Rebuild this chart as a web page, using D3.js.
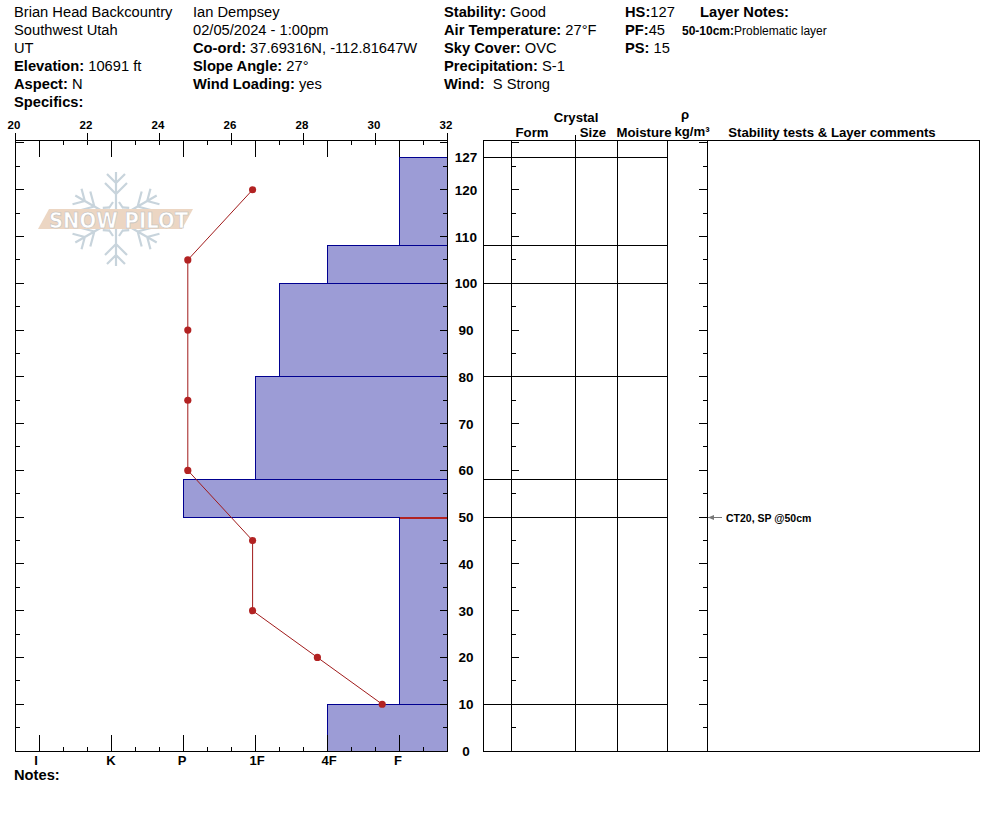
<!DOCTYPE html>
<html><head><meta charset="utf-8">
<script src="https://cdn.jsdelivr.net/npm/d3@7"></script>
<style>html,body{margin:0;padding:0;background:#fff}svg{display:block}text{font-family:"Liberation Sans",Arial,sans-serif;fill:#000}</style>
</head><body><div id="c"></div>
<script>
(function(){
const layerTops=[127,108,100,80,58,50,10];
const layerBottoms=[108,100,80,58,50,10,0];
const layerHardness=[5,4,3.333,3,2,5,4];
const tempDepths=[120,105,90,75,60,45,30,20,10];
const tempValues=[26.6,24.8,24.8,24.8,24.8,26.6,26.6,28.4,30.2];
const hardLabels=["I","K","P","1F","4F","F"];
const hardLabelNudge=[-3,0,-1,2,2,-1];
const tempTicks=[20,22,24,26,28,30,32];
const depthTicks=[0,10,20,30,40,50,60,70,80,90,100,110,120,127];
const headerLines=[
 [14,17,[["","Brian Head Backcountry"]]],[14,35,[["","Southwest Utah"]]],[14,53,[["","UT"]]],
 [14,71,[["Elevation: ","10691 ft"]]],[14,89,[["Aspect: ","N"]]],[14,107,[["Specifics:",""]]],
 [193,17,[["","Ian Dempsey"]]],[193,35,[["","02/05/2024 - 1:00pm"]]],[193,53,[["Co-ord: ","37.69316N, -112.81647W"]]],
 [193,71,[["Slope Angle: ","27°"]]],[193,89,[["Wind Loading: ","yes"]]],
 [444,17,[["Stability: ","Good"]]],[444,35,[["Air Temperature: ","27°F"]]],[444,53,[["Sky Cover: ","OVC"]]],
 [444,71,[["Precipitation: ","S-1"]]],[444,89,[["Wind:  ","S Strong"]]],
 [625,17,[["HS:","127"]]],[625,35,[["PF:","45"]]],[625,53,[["PS: ","15"]]],[700,17,[["Layer Notes:",""]]]
];
const colEdges=[483,511,575,617,667,707,979];
const W=994,H=840,topY=140,bot=751;
const svg=d3.select("#c").append("svg").attr("width",W).attr("height",H);
const y=d3.scaleLinear().domain([0,130.64]).range([bot,topY]);
const xT=d3.scaleLinear().domain([20,32]).range([15,447]);
const xH=d3.scaleLinear().domain([0,1]).range([39,111]);
const C=v=>Math.round(v)+.5;
const CY=v=>Math.floor(v)+.5;
const line=(g,a,b,c,d,s="#000",w=1)=>g.append("line").attr("x1",a).attr("y1",b).attr("x2",c).attr("y2",d).attr("stroke",s).attr("stroke-width",w);

// header
headerLines.forEach(([x,yy,parts])=>{
 const t=svg.append("text").attr("x",x).attr("y",yy).attr("font-size",14.7).attr("xml:space","preserve").style("white-space","pre");
 parts.forEach(([b,n])=>{ if(b)t.append("tspan").attr("font-weight","bold").text(b); if(n)t.append("tspan").text(n);});
});
const ln=svg.append("text").attr("x",682).attr("y",35).attr("font-size",12);
ln.append("tspan").attr("font-weight","bold").text("50-10cm:");
ln.append("tspan").text("Problematic layer");
svg.append("text").attr("x",14).attr("y",780).attr("font-size",14.7).attr("font-weight","bold").text("Notes:");

// logo
const logo=svg.append("g").attr("transform","translate(116,219)");
for(let k=0;k<6;k++){
 const g=logo.append("g").attr("transform",`rotate(${k*60})`).attr("stroke","#c8d4dc").attr("stroke-width",2.2).attr("fill","none");
 g.append("path").attr("d","M0,0V-47M0,-36L-9,-45M0,-36L9,-45M0,-25L-11,-36M0,-25L11,-36M-7,-11L-3,-17M7,-11L3,-17");
}
logo.append("path").attr("d","M-78,10L-67,-10H77L66,10Z").attr("fill","#ecd6c3");
logo.append("text").attr("x",2.5).attr("y",8.5).attr("text-anchor","middle").attr("font-size",21.5).attr("textLength",139).attr("lengthAdjust","spacingAndGlyphs")
 .attr("style","fill:#fff;stroke:#bdbdbd;stroke-width:.6;font-weight:bold;font-family:'DejaVu Sans',sans-serif").text("SNOW PILOT");

// bars
const layers=layerTops.map((t,i)=>({t,b:layerBottoms[i],h:layerHardness[i]}));
svg.append("g").selectAll("rect").data(layers).join("rect")
 .attr("x",d=>C(xH(d.h))).attr("y",d=>CY(y(d.t))).attr("width",d=>447.5-C(xH(d.h)))
 .attr("height",d=>CY(y(d.b))-CY(y(d.t))).attr("fill","#9c9cd6").attr("stroke","#000090").attr("stroke-width",1);

// plot axes and ticks
const ax=svg.append("g");
line(ax,15,topY+.5,448,topY+.5);line(ax,15,bot+.5,448,bot+.5);
line(ax,15.5,topY,15.5,bot+1);line(ax,447.5,topY,447.5,bot+1);
d3.range(-0.3333,5.67,1/3).forEach((r,i)=>{
 const px=C(xH(r));const major=i%3==1;
 if(major){line(ax,px,topY,px,topY+17);line(ax,px,bot+1,px,bot-16);}
 else{line(ax,px,topY,px,topY+5);line(ax,px,bot+1,px,bot-4);}
});
tempTicks.forEach(v=>{line(ax,C(xT(v)),topY-7,C(xT(v)),topY+5);
 svg.append("text").attr("x",xT(v)-1).attr("y",129).attr("text-anchor","middle").attr("font-size",11.5).attr("font-weight","bold").text(v);});
hardLabels.forEach((s,i)=>svg.append("text").attr("x",xH(i)+hardLabelNudge[i]).attr("y",764.5).attr("text-anchor","middle").attr("font-size",13).attr("font-weight","bold").text(s));
d3.range(0,130.6,5).forEach(d=>{
 const p=CY(y(d)),m=d%10==0;
 line(ax,15,p,m?24:20,p);line(ax,m?440:443,p,447,p);
 line(ax,511,p,m?519:516,p);line(ax,m?699:703,p,707,p);
});
depthTicks.forEach(d=>svg.append("text").attr("x",466).attr("y",y(d)+5).attr("text-anchor","middle").attr("font-size",13.5).attr("font-weight","bold").text(d));

// red line on layer 50
line(svg,400,CY(y(50))+.5,447,CY(y(50))+.5,"#b22222",2);

// temperature
const pts=tempDepths.map((d,i)=>[xT(tempValues[i]),y(d)]);
svg.append("path").attr("d",d3.line()(pts)).attr("fill","none").attr("stroke","#a01a1a").attr("stroke-width",1);
svg.append("g").selectAll("circle").data(pts).join("circle").attr("cx",d=>d[0]).attr("cy",d=>d[1]).attr("r",3.6).attr("fill","#b22222");

// table
const tb=svg.append("g");
line(tb,483,topY+.5,979,topY+.5);line(tb,483,bot+.5,980,bot+.5);
colEdges.forEach(x=>line(tb,x+.5,topY,x+.5,bot+1));
line(tb,575.5,topY-5,575.5,topY);
layerTops.forEach(d=>line(tb,483,CY(y(d)),667,CY(y(d))));
[["Crystal",576,122],["Form",532,137],["Size",593,137],["Moisture",644,137],["ρ",685,119],["kg/m³",692,136],["Stability tests & Layer comments",832,137]]
 .forEach(([s,x,yy])=>svg.append("text").attr("x",x).attr("y",yy).attr("text-anchor","middle").attr("font-size",13.2).attr("font-weight","bold").text(s));

// stability annotation
const p50=CY(y(50));
line(svg,700,p50,707,p50,"#000");
svg.append("path").attr("d",`M708,${p50}L714,${p50-2.5}V${p50+2.5}Z`).attr("fill","#777");
line(svg,708,p50,722,p50,"#777");
svg.append("text").attr("x",726).attr("y",p50+4).attr("font-size",10.5).attr("font-weight","bold").text("CT20, SP @50cm");
})();
</script></body></html>
